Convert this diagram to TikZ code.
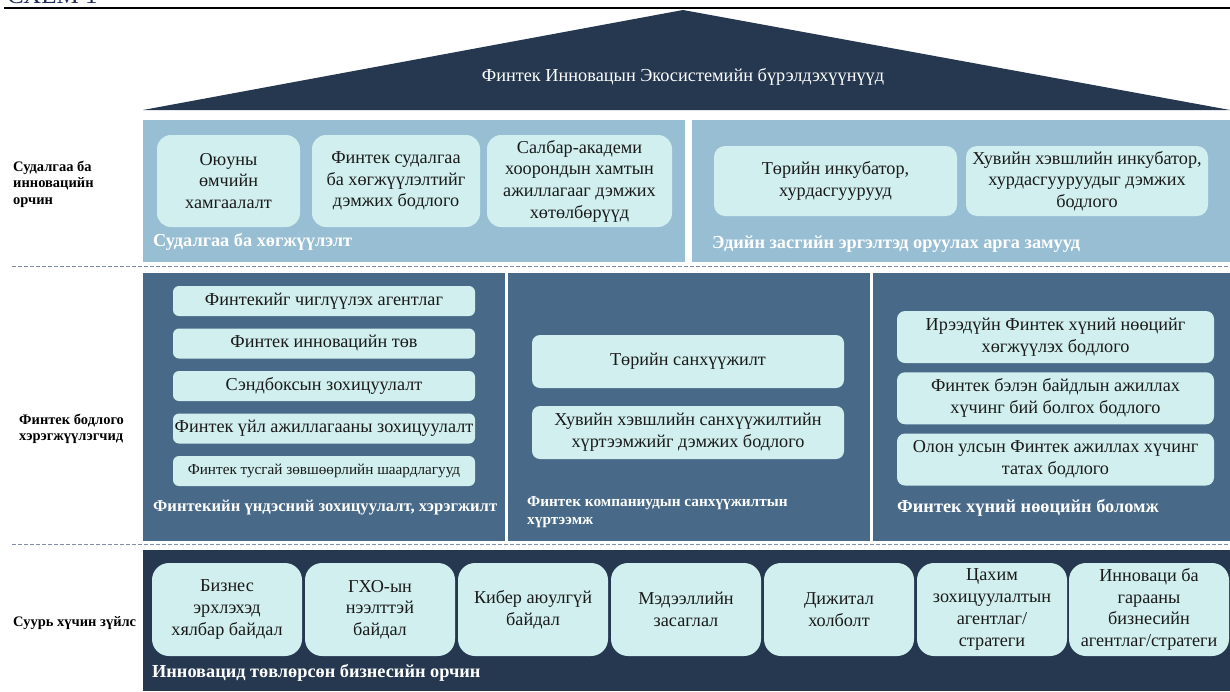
\documentclass[tikz,border=0pt]{standalone}
\usepackage{fontspec}
\setmainfont{Liberation Serif}
\definecolor{navy}{HTML}{253850}
\definecolor{steel}{HTML}{486A88}
\definecolor{sky}{HTML}{98BED4}
\definecolor{ice}{HTML}{D0EFEE}
\definecolor{ink}{HTML}{1A1A1A}
\definecolor{rulegray}{HTML}{7F8EA6}
\definecolor{headblue}{HTML}{1F2A5C}
\newcommand{\fsz}[2]{\fontsize{#1}{#2}\selectfont}
\tikzset{
    cell/.style={fill=ice, text=ink, align=center, inner sep=1pt, font=\fsz{18.2}{21.7}},
    ttl/.style={text=white, anchor=base west, inner sep=0pt, font=\bfseries\fsz{18.3}{20}},
    lbl/.style={anchor=west, align=left, inner sep=0pt, font=\bfseries\fsz{14.5}{16.5}},
}
\begin{document}
\begin{tikzpicture}[x=1pt, y=-1pt]
    \useasboundingbox (0,0) rectangle (1230,691);
    \node[anchor=base west, inner sep=0pt, text=headblue, font=\fsz{25}{25}] (scheme) at (7,3) {СХЕМ 1};
    \draw[line width=2pt] (4,8) -- (1230,8);
    \fill[navy] (143,110) -- (683,10) -- (1230,110) -- cycle;
    \node[text=white, font=\fsz{18.3}{18.3}] (roof) at (683,77) {Финтек Инновацын Экосистемийн бүрэлдэхүүнүүд};
    \fill[sky] (143,120) rectangle (685,262);
    \fill[sky] (692,120) rectangle (1230,262);
    \fill[steel] (143,273) rectangle (505,541);
    \fill[steel] (508,273) rectangle (870,541);
    \fill[steel] (873,273) rectangle (1230,541);
    \fill[navy] (143,550) rectangle (1230,691);
    \foreach \y in {266,544} {
        \draw[rulegray, line width=1pt, dash pattern=on 4pt off 2pt] (12,\y) -- (1230,\y);
    }
    \node[lbl] (lblres) at (13,184) {Судалгаа ба\\инновацийн\\орчин};
    \node[lbl] (lblpol) at (19,429) {Финтек бодлого\\хэрэгжүүлэгчид};
    \node[lbl] (lblbase) at (13,623) {Суурь хүчин зүйлс};
    \node[cell, minimum width=143pt, minimum height=92pt, rounded corners=14pt] (ip) at (228.5,181) {Оюуны\\өмчийн\\хамгаалалт};
    \node[cell, minimum width=168pt, minimum height=92pt, rounded corners=14pt] (rnd) at (396,181) {Финтек судалгаа\\ба хөгжүүлэлтийг\\дэмжих бодлого};
    \node[cell, minimum width=185pt, minimum height=92pt, rounded corners=14pt] (acad) at (579.5,181) {Салбар-академи\\хоорондын хамтын\\ажиллагааг дэмжих\\хөтөлбөрүүд};
    \node[cell, minimum width=243pt, minimum height=70pt, rounded corners=11pt] (pubinc) at (835.5,181) {Төрийн инкубатор,\\хурдасгуурууд};
    \node[cell, minimum width=242pt, minimum height=70pt, rounded corners=11pt] (privinc) at (1087,181) {Хувийн хэвшлийн инкубатор,\\хурдасгууруудыг дэмжих\\бодлого};
    \node[ttl] (ttlres) at (153,246) {Судалгаа ба хөгжүүлэлт};
    \node[ttl] (ttlecon) at (712,248) {Эдийн засгийн эргэлтэд оруулах арга замууд};
    \foreach \t [count=\i from 0] in {Финтекийг чиглүүлэх агентлаг, Финтек инновацийн төв, Сэндбоксын зохицуулалт, Финтек үйл ажиллагааны зохицуулалт} {
        \node[cell, minimum width=302pt, minimum height=30pt, rounded corners=6pt, font=\fsz{18.2}{20}] (reg\i) at (324,{301+42.5*\i}) {\t};
    }
    \node[cell, minimum width=302pt, minimum height=30pt, rounded corners=6pt, font=\fsz{15.2}{17}] (reg4) at (324,471) {Финтек тусгай зөвшөөрлийн шаардлагууд};
    \node[ttl, font=\bfseries\fsz{16.6}{18}] (ttlreg) at (153,511) {Финтекийн үндэсний зохицуулалт, хэрэгжилт};
    \node[cell, minimum width=312pt, minimum height=53pt, rounded corners=8pt] (pubfund) at (688,361.5) {Төрийн санхүүжилт};
    \node[cell, minimum width=312pt, minimum height=53pt, rounded corners=8pt] (privfund) at (688,432.5) {Хувийн хэвшлийн санхүүжилтийн\\хүртээмжийг дэмжих бодлого};
    \node[ttl, anchor=west, align=left, font=\bfseries\fsz{15.3}{18}] (ttlfund) at (527,512) {Финтек компаниудын санхүүжилтын\\хүртээмж};
    \foreach \t [count=\i from 0] in {Ирээдүйн Финтек хүний нөөцийг\\хөгжүүлэх бодлого, Финтек бэлэн байдлын ажиллах\\хүчинг бий болгох бодлого, Олон улсын Финтек ажиллах хүчинг\\татах бодлого} {
        \node[cell, minimum width=317pt, minimum height=52pt, rounded corners=8pt] (hr\i) at (1055.5,{337+61.25*\i}) {\t};
    }
    \node[ttl] (ttlhr) at (897,512) {Финтек хүний нөөцийн боломж};
    \foreach \t [count=\i from 0] in {Бизнес\\эрхлэхэд\\хялбар байдал, ГХО-ын\\нээлттэй\\байдал, Кибер аюулгүй\\байдал, Мэдээллийн\\засаглал, Дижитал\\холболт, Цахим\\зохицуулалтын\\агентлаг/\\стратеги} {
        \node[cell, minimum width=150pt, minimum height=93pt, rounded corners=17pt] (base\i) at ({227+153*\i},609.5) {\t};
    }
    \node[cell, minimum width=160pt, minimum height=93pt, rounded corners=17pt] (base6) at (1149,609.5) {Инноваци ба\\гарааны\\бизнесийн\\агентлаг/стратеги};
    \node[ttl] (ttlbase) at (152,677) {Инновацид төвлөрсөн бизнесийн орчин};
\end{tikzpicture}
\end{document}
